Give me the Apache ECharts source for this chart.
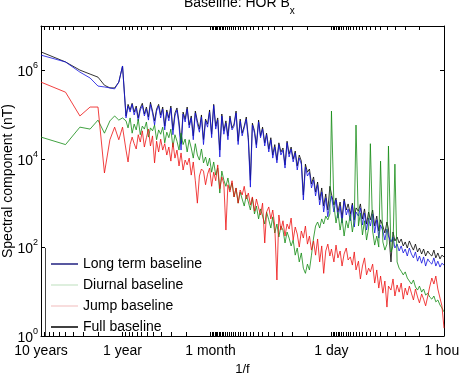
<!DOCTYPE html>
<html><head><meta charset="utf-8">
<script src="https://cdn.jsdelivr.net/npm/echarts@6/dist/echarts.min.js"></script>
<style>html,body{margin:0;padding:0;background:#fff}#c{width:459px;height:374px}</style>
</head><body><div id="c"></div>
<script>
// Period (1/f) of each spectral point, in hours
const periodHours = [87660,43830,29220,21915,17532,14610,12523,10958,9740,8766,
7943,7499,7079,6683,6310,5957,5623,5309,5012,4732,
4467,4217,3981,3758,3548,3350,3162,2985,2818,2661,
2512,2371,2239,2113,1995,1884,1778,1679,1585,1496,
1413,1334,1259,1189,1122,1059,1000,944,891,841,
794,750,708,668,631,596,562,531,501,473,
447,422,398,376,355,335,316,299,282,266,
251,237,224,211,200,188,178,168,158,150,
141,133,126,119,112,106,100,94.4,89.1,84.1,
79.4,75.0,70.8,66.8,63.1,59.6,56.2,53.1,50.1,47.3,
44.7,42.2,39.8,37.6,35.5,33.5,31.6,29.9,28.2,26.6,
25.1,24,22.4,21.1,20.0,18.8,17.8,16.8,15.8,15.0,
14.1,13.3,12.6,12,11.2,10.6,10,9.44,8.91,8.41,
8,7.50,7.08,6.68,6.31,6,5.62,5.31,5.01,4.8,
4.47,4.22,4,3.76,3.55,3.35,3.16,2.99,2.82,2.66,
2.51,2.37,2.24,2.11,2.00,1.88,1.78,1.68,1.58,1.50,
1.41,1.33,1.26,1.19,1.12,1.06,1.00];

// Spectral component (nT)
const longTerm = [2.2e6,1.54e6,9.1e5,6.7e5,4.4e5,4.2e5,4.0e5,3.8e5,5.4e5,1.25e6,
8.4e4,1.56e5,1.14e5,1.7e5,9.8e4,1.41e5,7.2e4,1.27e5,1.6e5,9.3e4,
1.33e5,7.5e4,1.7e5,1.08e5,5.8e4,1.2e5,1.56e5,8.4e4,1.33e5,4.5e4,
1.14e5,7.2e4,1.41e5,3.5e4,9.3e4,1.27e5,5.5e4,1.58e4,1.03e5,6.8e4,
1.33e5,5.0e4,8.4e4,2.7e4,1.08e5,6.1e4,4.0e4,8.8e4,2.1e4,7.2e4,
5.2e4,1.14e5,3.0e4,1.6e5,4.7e4,7.5e4,1.1e4,9.3e4,3.6e4,6.4e4,
2.7e4,8.4e4,4.5e4,5.5e4,1.08e5,2.1e4,7.2e4,3.3e4,5.0e4,7.9e4,
2.5e4,2.3e3,5.8e4,3.8e4,1.76e4,6.8e4,3.0e4,4.7e4,1.95e4,3.5e4,
1.43e4,2.7e4,1.04e4,1.85e4,8.1e3,2.1e4,1.22e4,1.58e4,6.2e3,2.3e4,
1.1e4,1.67e4,8.5e3,1.36e4,5.6e3,1.04e4,7.6e3,1.18e3,6.5e3,4.1e3,
5.0e3,2.2e3,3.3e3,1.45e3,2.6e3,910,1.78e3,630,1.31e3,490,
1.0e3,1.45e3,630,1.18e3,460,860,356,1.12e3,540,740,
400,910,289,630,510,780,321,600,247,460,
304,570,212,420,163,321,235,147,260,181,
133,172,97,119,83,108,75,92,64,97,
71,58,79,49,64,44,61,38,55,47,
42,58,38,49,36,44,40];

const diurnal = [3.1e4,2.1e4,5.2e4,4.7e4,7.5e4,3.8e4,7.2e4,9.3e4,7.5e4,8.4e4,
7.2e4,5.0e4,8.4e4,3.8e4,6.1e4,4.5e4,7.9e4,3.5e4,5.5e4,4.7e4,
6.8e4,3.1e4,5.0e4,4.3e4,5.8e4,2.7e4,4.5e4,3.6e4,5.2e4,2.3e4,
4.0e4,3.0e4,4.7e4,1.85e4,3.5e4,2.5e4,1.58e4,3.8e4,2.1e4,2.8e4,
1.43e4,2.7e4,1.76e4,1.04e4,2.2e4,1.22e4,9.4e3,1.67e4,8.1e3,1.1e4,
6.9e3,1.04e4,5.0e3,8.5e3,4.3e3,6.2e3,1.69e3,5.3e3,3.3e3,2.4e3,
3.7e3,1.98e3,2.85e3,1.38e3,2.2e3,1.0e3,1.78e3,1.24e3,860,1.53e3,
1.06e3,700,1.31e3,570,860,440,740,510,338,630,
420,274,490,212,338,172,304,247,126,223,
163,108,147,67,97,47,75,34,26,42,
31,67,163,304,375,274,440,338,510,420,
570,1.2e5,910,356,630,247,460,181,400,274,
570,223,420,5.8e4,304,600,191,400,147,274,
2.2e4,235,113,181,102,8.9e3,133,87,119,1.95e4,
79,108,7.6e3,47,34,29,24,28,20.4,17.4,
14.9,18.4,12.8,10.9,13.4,9.8,11.5,8.4,9.3,7.6,
6.8,8.0,5.9,6.5,5.0,4.3,3.5];

const jump = [5.4e5,3.2e5,9.3e4,1.48e5,1.48e5,4.8e3,2.7e4,5.2e4,2.7e4,5.2e4,
1.58e4,8.5e3,2.1e4,3.1e4,2.2e4,1.67e4,3.5e4,2.4e4,4.3e4,1.85e4,
3.0e4,4.7e4,1.95e4,3.3e4,8.1e3,2.5e4,1.43e4,2.8e4,1.58e4,2.2e4,
1.22e4,1.85e4,8.9e3,2.3e4,1.04e4,1.58e4,6.9e3,1.36e4,5.6e3,9.4e3,
7.3e3,1.04e4,4.3e3,8.5e3,3.2e3,1.0e3,4.1e3,5.9e3,5.3e3,2.6e3,
4.5e3,6.2e3,2.4e3,5.0e3,3.2e3,7.3e3,2.1e3,3.9e3,2.7e3,247,
2.6e3,1.78e3,3.2e3,1.38e3,2.2e3,1.0e3,1.98e3,1.53e3,2.4e3,1.24e3,
1.69e3,910,1.38e3,660,1.24e3,780,540,1.0e3,126,630,
820,440,700,304,18.4,540,247,400,181,338,
260,460,147,289,201,102,235,163,304,119,
181,87,140,67,155,47,108,26,83,119,
64,92,47,113,58,83,38,71,97,52,
61,40,79,31,49,19.4,38,58,24,34,
28,42,15.7,31,12.1,22.6,9.3,17.4,4.5,13.4,
10.9,19.4,8.0,14.2,9.8,15.7,6.8,12.1,8.4,13.4,
9.3,6.5,11.5,7.6,5.6,8.9,6.8,4.8,8.0,12.8,
20.4,14.9,22.6,11.5,7.2,4.8,1.5];

const full = [2.6e6,1.54e6,1.01e6,8.2e5,7.0e5,4.6e5,4.0e5,4.0e5,5.4e5,1.25e6,
9.3e4,1.7e5,1.27e5,1.8e5,1.14e5,1.56e5,8.4e4,1.41e5,1.8e5,1.03e5,
1.48e5,8.8e4,1.9e5,1.2e5,7.2e4,1.33e5,1.7e5,9.8e4,1.48e5,5.5e4,
1.27e5,8.4e4,1.56e5,4.5e4,1.08e5,1.41e5,6.8e4,2.2e4,1.14e5,7.9e4,
1.48e5,5.8e4,9.3e4,3.3e4,1.2e5,7.2e4,4.7e4,9.8e4,2.7e4,7.9e4,
6.1e4,1.27e5,3.6e4,1.7e5,5.5e4,8.4e4,1.58e4,1.03e5,4.3e4,7.2e4,
3.3e4,9.3e4,5.0e4,6.1e4,1.2e5,2.5e4,7.9e4,3.8e4,5.5e4,8.8e4,
3.0e4,3.3e3,6.4e4,4.3e4,2.1e4,7.5e4,3.3e4,5.2e4,2.3e4,3.8e4,
1.67e4,3.0e4,1.22e4,2.1e4,9.4e3,2.3e4,1.43e4,1.76e4,7.3e3,2.5e4,
1.29e4,1.85e4,9.9e3,1.5e4,6.9e3,1.22e4,8.9e3,1.53e3,7.6e3,5.0e3,
5.9e3,2.7e3,3.9e3,1.78e3,3.0e3,1.18e3,2.2e3,860,1.61e3,700,
2.4e3,1.61e3,910,1.31e3,630,1.06e3,460,1.24e3,700,960,
570,1.0e3,420,780,660,960,440,740,338,630,
420,700,304,510,235,420,304,212,375,260,
47,223,140,172,126,155,108,133,97,140,
108,87,119,79,97,71,92,64,83,71,
64,87,58,75,55,67,61];

// Axis ticks
const xTickLabels = ['10 years', '1 year', '1 month', '1 day', '1 hour'];
const xTickPeriods = [87660, 8766, 730.5, 24, 1];   // hours
const yearMultiples = [2,3,4,5,6,7,8,9];
const monthMultiples = [2,3,4,5,6,7,8,9,10,11];
const dayMultiples = [2,3,4,5,6,7,8,9,10,11,12,13,14,15,16,17,18,19,20,21,22,23,24,25,26,27,28,29];
const hourMultiples = [2,3,4,5,6,7,8,9,10,11,12,13,14,15,16,17,18,19,20,21,22,23];
const yTickExponents = [0, 2, 4, 6];
const seriesNames = ['Long term baseline', 'Diurnal baseline', 'Jump baseline', 'Full baseline'];

const FONT = 'Liberation Sans, Arial, Helvetica, sans-serif';
const L10 = Math.log10;
const xMajor = xTickPeriods.map(L10);
const xTicks = xMajor
  .concat(yearMultiples.map(m => L10(m * 8766)))
  .concat(monthMultiples.map(m => L10(m * 730.5)))
  .concat(dayMultiples.map(m => L10(m * 24)))
  .concat(hourMultiples.map(m => L10(m)));
const xMin = 0, xMax = L10(xTickPeriods[0]);

function fmtX(v) {
  for (let i = 0; i < xMajor.length; i++) if (Math.abs(xMajor[i] - v) < 1e-6) return xTickLabels[i];
  return '';
}
function pts(vals) { return periodHours.map((p, i) => [L10(p), L10(vals[i])]); }
function mk(name, vals, color, w) {
  return { name, type: 'line', data: pts(vals), showSymbol: false, symbol: 'none', silent: true,
    animation: false, lineStyle: { width: w, color }, itemStyle: { color }, emphasis: { disabled: true } };
}

const chart = echarts.init(document.getElementById('c'), null, { renderer: 'canvas' });
const tickStyle = { color: '#000', width: 1 };
chart.setOption({
  animation: false,
  backgroundColor: '#fff',
  title: {
    text: '{a|Baseline: HOR B}{b|x}', left: 179, top: -9,
    textStyle: { fontWeight: 'normal', rich: {
      a: { fontSize: 14, fontFamily: FONT, fontWeight: 'normal', color: '#000', lineHeight: 20, verticalAlign: 'top' },
      b: { fontSize: 10, fontFamily: FONT, fontWeight: 'normal', color: '#000', lineHeight: 20, verticalAlign: 'bottom' }
    } }
  },
  grid: { left: 41, right: 15, top: 26, bottom: 38, containLabel: false, outerBoundsMode: 'none' },
  legend: {
    orient: 'vertical', left: 51, top: 257, itemWidth: 27, itemHeight: 1.5, itemGap: 7,
    icon: 'rect', padding: 0,
    textStyle: { fontSize: 14, fontFamily: FONT, color: '#000' },
    data: [
      { name: seriesNames[0], itemStyle: { color: '#202080' } },
      { name: seriesNames[1], itemStyle: { color: '#d3ead3' } },
      { name: seriesNames[2], itemStyle: { color: '#f6d2d2' } },
      { name: seriesNames[3], itemStyle: { color: '#000' } }
    ]
  },
  xAxis: [
    { type: 'value', position: 'bottom', min: xMin, max: xMax, inverse: true,
      axisLine: { onZero: false, lineStyle: tickStyle },
      axisTick: { inside: true, length: 4, customValues: xTicks, lineStyle: tickStyle },
      axisLabel: { customValues: xMajor, formatter: fmtX, fontSize: 14, fontFamily: FONT, color: '#000', margin: 8 },
      splitLine: { show: false },
      name: '1/f', nameLocation: 'middle', nameGap: 25,
      nameTextStyle: { fontSize: 13, fontFamily: FONT, color: '#000' } },
    { type: 'value', position: 'top', min: xMin, max: xMax, inverse: true,
      axisLine: { onZero: false, lineStyle: tickStyle },
      axisTick: { inside: true, length: 4, customValues: xTicks, lineStyle: tickStyle },
      axisLabel: { show: false }, splitLine: { show: false } }
  ],
  yAxis: [
    { type: 'value', position: 'left', min: 0, max: 7,
      axisLine: { onZero: false, lineStyle: tickStyle },
      axisTick: { inside: true, length: 4, customValues: yTickExponents, lineStyle: tickStyle },
      axisLabel: { customValues: yTickExponents, margin: 3,
        formatter: v => '{b|10}{s|' + Math.round(v) + '}',
        rich: {
          b: { fontSize: 14, fontFamily: FONT, color: '#000', lineHeight: 18, verticalAlign: 'bottom' },
          s: { fontSize: 9, fontFamily: FONT, color: '#000', lineHeight: 18, verticalAlign: 'top' }
        } },
      splitLine: { show: false },
      name: 'Spectral component (nT)', nameLocation: 'middle', nameGap: 26, nameMoveOverlap: false,
      nameTextStyle: { fontSize: 14, fontFamily: FONT, color: '#000' } },
    { type: 'value', position: 'right', min: 0, max: 7,
      axisLine: { onZero: false, lineStyle: tickStyle },
      axisTick: { inside: true, length: 4, customValues: yTickExponents, lineStyle: tickStyle },
      axisLabel: { show: false }, splitLine: { show: false } }
  ],
  graphic: [
    { type: 'line', shape: { x1: 45.5, y1: 248, x2: 45.5, y2: 336 }, style: { stroke: '#444', lineWidth: 1 }, z: 100 }
  ],
  series: [
    mk(seriesNames[3], full, '#000000', 0.8),
    mk(seriesNames[0], longTerm, '#1010e0', 0.8),
    mk(seriesNames[1], diurnal, '#118a11', 0.8),
    mk(seriesNames[2], jump, '#ee1010', 0.8)
  ]
});
</script>
</body></html>
